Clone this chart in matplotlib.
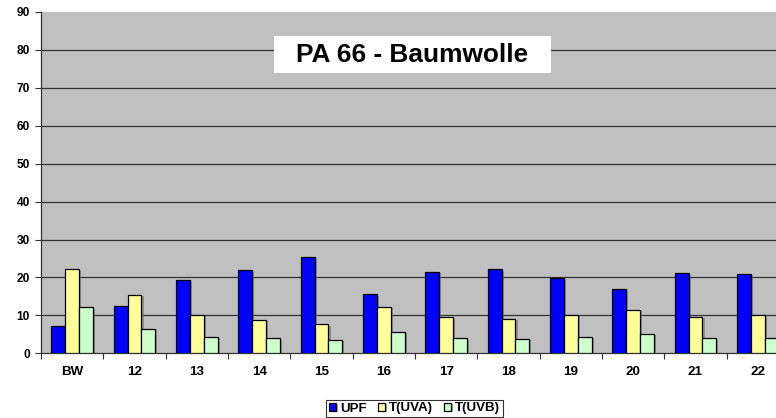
import matplotlib
matplotlib.use("Agg")
import matplotlib.pyplot as plt
import matplotlib.patheffects as pe
from matplotlib.patches import Rectangle
import numpy as np

categories = ["BW", "12", "13", "14", "15", "16", "17", "18", "19", "20", "21", "22"]
upf = [7.2, 12.5, 19.4, 21.9, 25.3, 15.6, 21.5, 22.2, 19.8, 17.0, 21.1, 20.9]
t_uva = [22.2, 15.5, 10.1, 8.9, 7.6, 12.2, 9.6, 9.1, 10.1, 11.4, 9.7, 10.0]
t_uvb = [12.1, 6.5, 4.3, 4.0, 3.5, 5.6, 4.0, 3.8, 4.3, 5.1, 4.0, 4.0]
series_names = ["UPF", "T(UVA)", "T(UVB)"]
colors = ["#0000FF", "#FFFF99", "#CCFFCC"]
title = "PA 66 - Baumwolle"
yticks = list(range(0, 91, 10))

plt.rcParams['font.family'] = ['Liberation Sans', 'DejaVu Sans']

W, H = 776, 418
fig = plt.figure(figsize=(W / 100, H / 100), dpi=100)
ax = fig.add_axes([41/W, (H-353.3)/H, 748/W, 341.3/H])
ax.set_facecolor("#C0C0C0")

x = np.arange(len(categories))
bw = 1/4.5
shadow = [pe.SimplePatchShadow(offset=(1.5, -1.0), shadow_rgbFace="#707070", alpha=0.6), pe.Normal()]
for i, (vals, c, n) in enumerate(zip([upf, t_uva, t_uvb], colors, series_names)):
    bars = ax.bar(x + (i - 1) * bw, vals, width=bw, color=c, edgecolor="black",
                  linewidth=0.9, label=n, zorder=3)
    for b in bars:
        b.set_path_effects(shadow)

ax.set_xlim(-0.5, len(categories) - 0.5)
ax.set_ylim(0, 90)
ax.set_yticks(yticks)
for yv in yticks[1:-1]:
    ax.axhline(yv, color="#333333", linewidth=0.9, zorder=1)

ax.set_xticks(np.arange(-0.5, len(categories), 1))
ax.set_xticklabels([])
ax.set_xticks(x, minor=True)
ax.set_xticklabels(categories, minor=True, fontsize=9.6, fontweight="bold")
ax.tick_params(axis="x", which="major", length=4, width=0.8, color="#333333", direction="out")
ax.tick_params(axis="x", which="minor", length=0, pad=9.0)
ax.tick_params(axis="y", length=4, width=0.8, color="#333333", labelsize=8.6, pad=4.0)
for lbl in ax.get_yticklabels():
    lbl.set_fontweight("bold")

for s in ["top", "right"]:
    ax.spines[s].set_visible(False)
for s in ["left", "bottom"]:
    ax.spines[s].set_color("#333333")
    ax.spines[s].set_linewidth(0.9)

fig.patches.append(Rectangle((274/W, 1 - 73/H), 277/W, 37/H, transform=fig.transFigure,
                             facecolor="white", edgecolor="none", zorder=5))
fig.text(412.5/W, 1 - 55/H, title, ha="center", va="center", fontsize=18.9,
         fontweight="bold", zorder=6)

leg = fig.legend(loc="center", bbox_to_anchor=(414.5/W, 1 - 408.5/H), ncol=3,
                 frameon=True, fancybox=False, edgecolor="black",
                 handlelength=0.55, handleheight=0.55, handletextpad=0.3, columnspacing=0.8,
                 borderpad=0.2, borderaxespad=0, prop={"weight": "bold", "size": 9.6})
leg.get_frame().set_linewidth(0.8)

fig.savefig("out.png", dpi=100)
